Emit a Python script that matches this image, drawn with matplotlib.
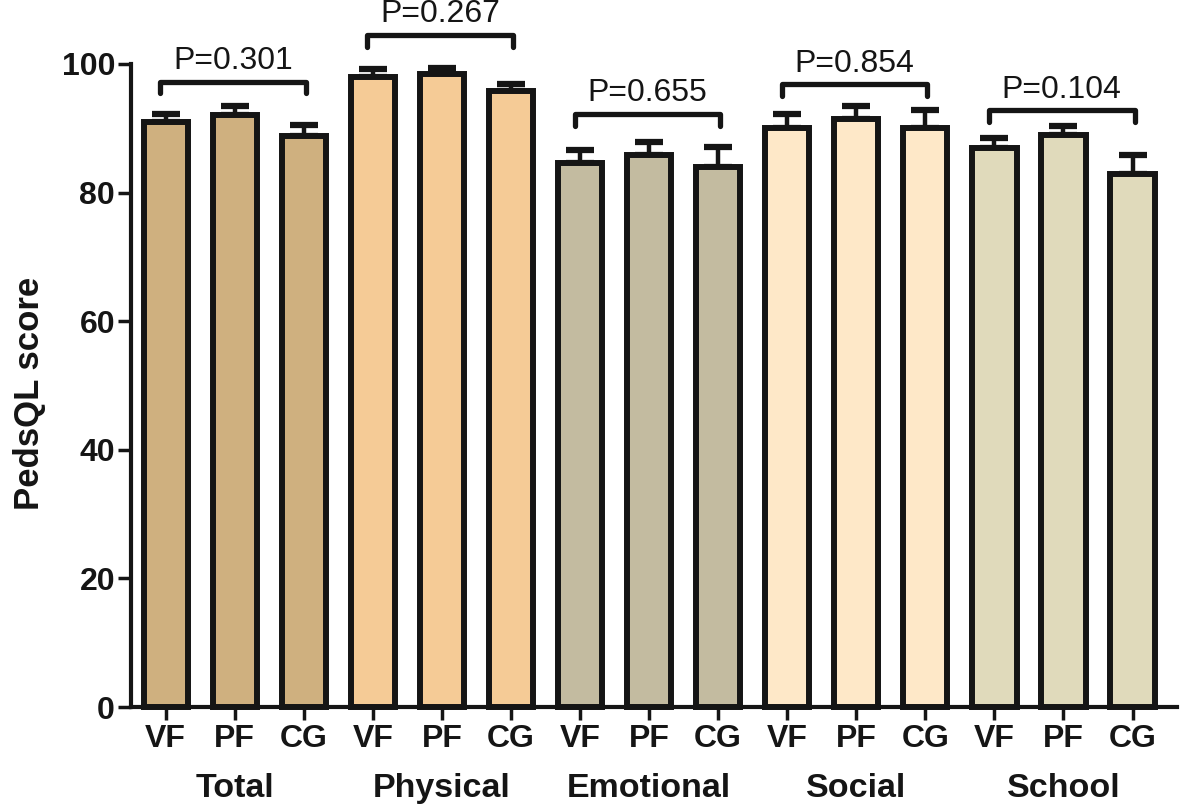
import numpy as np
import matplotlib
matplotlib.use("Agg")
import matplotlib.pyplot as plt

plt.rcParams['font.family'] = ['Liberation Sans', 'DejaVu Sans']

# data
groups = ['Total', 'Physical', 'Emotional', 'Social', 'School']
arms = ['VF', 'PF', 'CG']
means = [
	[91.0, 92.1, 88.8],
	[98.0, 98.4, 95.8],
	[84.6, 85.8, 83.9],
	[90.1, 91.5, 90.1],
	[87.0, 89.0, 82.9],
]
sems = [
	[1.2, 1.3, 1.7],
	[1.2, 1.0, 1.1],
	[2.0, 2.1, 3.2],
	[2.1, 2.0, 2.7],
	[1.5, 1.4, 3.0],
]
p_values = ['P=0.301', 'P=0.267', 'P=0.655', 'P=0.854', 'P=0.104']
group_colors = ['#cfb07f', '#f5cb96', '#c3bba0', '#fee8c8', '#e0dabb']

# bracket heights for the p-value annotations
bracket_y = [97.2, 104.5, 92.2, 96.8, 92.8]

ink = '#151515'


def main():
	fig = plt.figure(figsize=(11.81, 8.09), dpi=100)
	ax = fig.add_axes([0.111, 0.126, 0.886, 0.795])

	n = len(arms)
	x = np.arange(len(groups) * n)
	vals = np.array(means).ravel()
	errs = np.array(sems).ravel()
	cols = [c for c in group_colors for _ in range(n)]

	# error bars (upper only), drawn under the bars
	ax.errorbar(x, vals, yerr=[np.zeros_like(errs), errs], fmt='none',
				ecolor=ink, elinewidth=3.2, capsize=10, capthick=4.5,
				zorder=1, clip_on=False)
	ax.bar(x, vals, width=0.64, color=cols, edgecolor=ink, linewidth=4.3,
		   zorder=2, clip_on=False)

	# brackets with p values
	for g, (p, yb) in enumerate(zip(p_values, bracket_y)):
		x0 = g * n - 0.08
		x1 = g * n + n - 1 + 0.03
		ax.plot([x0, x0, x1, x1], [yb - 1.8, yb, yb, yb - 1.8], color=ink,
				lw=3.8, solid_capstyle='round', solid_joinstyle='round',
				clip_on=False, zorder=3)
		ax.text((x0 + x1) / 2, yb + 3.2, p, ha='center', va='center',
				fontsize=23, color='#151515')

	ax.set_xlim(-0.5, 14.65)
	ax.set_ylim(0, 100)
	ax.set_yticks([0, 20, 40, 60, 80, 100])
	ax.set_xticks(x)
	ax.set_xticklabels(arms * len(groups))
	for lab in ax.get_xticklabels() + ax.get_yticklabels():
		lab.set_fontweight('bold')
		lab.set_fontsize(23)

	ax.spines['top'].set_visible(False)
	ax.spines['right'].set_visible(False)
	for s in ['left', 'bottom']:
		ax.spines[s].set_linewidth(3)
		ax.spines[s].set_color(ink)
	ax.tick_params(axis='both', direction='out', length=9.5, width=2.5,
				   color=ink, labelcolor='#151515')
	ax.tick_params(axis='y', pad=2)
	ax.tick_params(axis='x', pad=3)

	# group labels under the tick labels
	for g, name in enumerate(groups):
		ax.text(g * n + 1, -0.127, name, transform=ax.get_xaxis_transform(),
				ha='center', va='center', fontsize=24.5, fontweight='bold',
				color='#151515')

	fig.text(0.025, 0.514, 'PedsQL score', rotation=90, ha='center',
			 va='center', fontsize=25, fontweight='bold', color='#151515')

	fig.savefig('out.png', dpi=100)


if __name__ == "__main__":
	main()
